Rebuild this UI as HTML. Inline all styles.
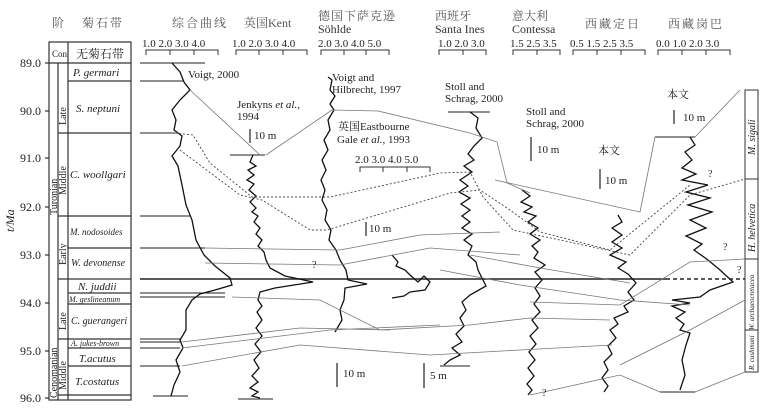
<!DOCTYPE html>
<html><head><meta charset="utf-8"><style>
html,body{margin:0;padding:0;background:#fff}
svg{display:block}
text{font-family:"Liberation Serif","Noto Serif CJK SC",serif;fill:#222}
</style></head><body>
<svg width="779" height="417" viewBox="0 0 779 417" xmlns="http://www.w3.org/2000/svg">
<g font-size="12" fill="#555">
<text x="52" y="27" style="fill:#555">阶</text>
<text x="82" y="27" style="fill:#555" letter-spacing="2">菊石带</text>
<text x="172" y="27" style="fill:#555" letter-spacing="2">综合曲线</text>
<text x="244" y="27" style="fill:#555">英国Kent</text>
<text x="318" y="20" style="fill:#555" letter-spacing="1">德国下萨克逊</text>
<text x="318" y="33" style="fill:#333">Söhlde</text>
<text x="435" y="20" style="fill:#555">西班牙</text>
<text x="435" y="33" style="fill:#333">Santa Ines</text>
<text x="512" y="20" style="fill:#555">意大利</text>
<text x="512" y="33" style="fill:#333">Contessa</text>
<text x="585" y="28" style="fill:#555" letter-spacing="2">西藏定日</text>
<text x="668" y="28" style="fill:#555" letter-spacing="2">西藏岗巴</text>
</g>
<g font-size="11">
<text x="142" y="47">1.0 2.0 3.0 4.0</text>
<text x="232" y="47">1.0 2.0 3.0 4.0</text>
<text x="318" y="47">2.0 3.0 4.0 5.0</text>
<text x="438" y="47">1.0 2.0 3.0</text>
<text x="510" y="47">1.5 2.5 3.5</text>
<text x="570" y="47">0.5 1.5 2.5 3.5</text>
<text x="656" y="47">0.0 1.0 2.0 3.0</text>
<text x="355" y="163">2.0 3.0 4.0 5.0</text>
</g>
<g stroke="#333" stroke-width="1" fill="none">
<path d="M146 55V50H218V55M170 50V55M194 50V55"/>
<path d="M236 55V50H307V55M259 50V55M283 50V55"/>
<path d="M321 55V50H389V55M344 50V55M366 50V55"/>
<path d="M439 55V50H486V55M463 50V55"/>
<path d="M513 55V50H560V55M537 50V55"/>
<path d="M573 55V50H645V55M597 50V55M621 50V55"/>
<path d="M658 55V50H730V55M682 50V55M706 50V55"/>
<path d="M360 172V167H430V172M383 167V172M407 167V172"/>
</g>
<g font-size="12">
<text x="20" y="67">89.0</text><text x="20" y="115">90.0</text><text x="20" y="162">91.0</text>
<text x="20" y="211">92.0</text><text x="20" y="259">93.0</text><text x="20" y="307">94.0</text>
<text x="20" y="355">95.0</text><text x="20" y="402">96.0</text>
<text x="14" y="232" transform="rotate(-90 14 232)" font-style="italic">t/Ma</text>
</g>
<g stroke="#333" stroke-width="1.2" fill="none">
<rect x="49" y="42" width="82" height="358"/>
<path d="M49 63H131M68 63V400M58 63V400M68 42V63"/>
<path d="M45 63H49M45 111H49M45 158H49M45 207H49M45 255H49M45 303H49M45 351H49M45 398H49"/>
<path d="M68 81H131M68 133H131M68 216H131M68 248H131M58 279H131M68 293H131M68 304H131M58 339H131M68 348H131M68 366H131M58 395H131M58 133H68M58 216H68"/>
</g>
<g font-size="11" font-style="italic">
<text x="52" y="57" font-style="normal" font-size="9">Con</text>
<text x="76" y="58" font-style="normal" font-size="12">无菊石带</text>
<text x="73" y="76">P. germari</text>
<text x="76" y="112">S. neptuni</text>
<text x="70" y="178">C. woollgari</text>
<text x="70" y="235" font-size="9">M. nodosoides</text>
<text x="71" y="266" font-size="10">W. devonense</text>
<text x="78" y="290">N. juddii</text>
<text x="69" y="302" font-size="8">M. geslineanum</text>
<text x="71" y="324" font-size="10">C. guerangeri</text>
<text x="71" y="346" font-size="8">A. jukes-brown</text>
<text x="79" y="362">T.acutus</text>
<text x="75" y="385">T.costatus</text>
</g>
<g font-size="10">
<text transform="rotate(-90 66 125)" x="66" y="125">Late</text>
<text transform="rotate(-90 66 195)" x="66" y="195">Middle</text>
<text transform="rotate(-90 66 265)" x="66" y="265">Early</text>
<text transform="rotate(-90 66 330)" x="66" y="330">Late</text>
<text transform="rotate(-90 66 390)" x="66" y="390">Middle</text>
<text transform="rotate(-90 57 215)" x="57" y="215">Turonian</text>
<text transform="rotate(-90 57 398)" x="57" y="398">Cenomanian</text>
</g>
<g stroke="#222" stroke-width="1">
<path d="M140 63H205M140 81H183M140 133H175M140 216H190M140 248H205M140 293H225M140 297H225M140 339H180M140 342H180M140 348H180M140 366H180M153 396H188"/>
<path d="M140 279H666" stroke-width="1.4"/>
<path d="M666 279H745" stroke-dasharray="4,3" stroke-width="1.4"/>
<path d="M230 155H265M238 399H273M448 112H490M440 366H470M655 137H695M660 392H695"/>
</g>
<g stroke="#333" fill="none"><rect x="745" y="90" width="13" height="282"/><path d="M745 179H758M745 259H758M745 330H758"/></g>
<g font-size="10" font-style="italic">
<text transform="rotate(-90 755 155)" x="755" y="155">M. sigali</text>
<text transform="rotate(-90 755 252)" x="755" y="252">H. helvetica</text>
<text transform="rotate(-90 754 330)" x="754" y="330" font-size="7">W. archaeocretacea</text>
<text transform="rotate(-90 754 370)" x="754" y="370" font-size="7">R. cushmani</text>
</g>
<g stroke="#111" stroke-width="1.3" fill="none">
<path d="M172 63L180 72 184 82 190 90 180 100 172 110 176 120 174 130 182 136 180 146 172 156 178 166 182 185 186 205 192 220 196 240 204 255 215 266 230 278 232 285 215 290 200 294 192 300 186 310 186 330 180 340 183 348 176 360 180 372 174 385 171 396"/>
<path d="M253 155L250 162 256 166 248 170 254 175 247 180 254 184 249 190 256 196 250 202 256 208 252 212 258 216 254 222 260 228 256 234 262 240 258 246 264 252 266 260 270 268 285 276 313 282 275 288 260 292 258 300 262 306 257 312 262 320 256 328 262 336 255 344 261 352 254 360 259 368 252 376 258 382 250 388 258 392 252 396 260 398"/>
<path d="M328 77L332 80 330 90 335 96 330 104 334 110 328 120 330 130 324 140 328 150 322 160 326 170 321 180 325 190 322 200 327 210 325 220 331 230 329 240 336 250 340 260 346 270 348 280 367 284 345 288 344 300 340 310 342 320 335 332"/>
<path d="M392 255L398 262 396 266 405 270 410 275 418 282 424 276 430 282 425 290 410 292 404 296 392 298"/>
<path d="M470 112L478 118 476 128 482 138 474 146 468 154 474 160 464 166 472 172 460 180 468 186 459 192 470 198 461 204 470 210 462 216 470 222 462 228 472 234 464 240 472 246 468 255 476 262 478 270 486 286 470 295 462 302 466 310 460 318 464 326 456 334 462 342 452 348 460 355 450 360 444 365"/>
<path d="M522 190L530 196 521 202 532 207 524 212 536 216 528 222 538 228 530 234 540 240 532 246 538 252 534 258 545 265 535 272 542 280 535 288 540 296 534 304 540 312 532 320 538 328 530 336 536 344 529 352 535 360 528 368 534 376 527 384 532 390 528 395"/>
<path d="M618 215L622 222 612 228 622 235 612 242 622 248 610 255 626 262 618 268 628 274 636 283 628 292 634 300 624 306 628 312 614 318 618 324 610 330 616 338 608 346 612 354 604 362 608 370 602 378 608 386 604 392"/>
<path d="M690 137L695 145 685 152 692 160 682 168 696 174 682 180 708 185 686 192 710 198 688 205 712 212 690 220 706 228 686 236 702 244 694 250 708 260 720 270 733 282 710 290 700 297 672 300 690 303 672 306 685 312 676 318 684 324 680 330 690 333 686 345 682 360 685 375 680 390"/>
</g>
<g stroke="#777" stroke-width="0.8" fill="none">
<path d="M190 90L260 155M266 155L332 110M332 110L378 111 470 133 497 142 507 183 530 193M495 180L640 212M640 212L655 137M695 137L740 90"/>
<path d="M205 248L340 250 420 235 500 232M205 263L340 265 430 248 520 255M232 297L320 300 380 330 470 325 530 318 610 320M182 342L300 328 390 330M182 348L330 330 440 325M182 366L300 345 430 355 520 350 612 345M530 302L620 305 690 262 745 259M620 365L690 330 745 300M530 395L620 375 660 392M695 392L745 372M440 270L520 285 620 300 690 305M470 255L540 268 630 283"/>
</g>
<g stroke="#444" stroke-width="0.9" fill="none" stroke-dasharray="2,2">
<path d="M175 133L193 135 210 163 252 197 330 197 440 173 470 172 483 197 513 230 560 240 630 255 690 195 745 179"/>
<path d="M180 150L240 195 262 200 310 230 327 230 450 193 480 190 510 210 540 232 610 250 690 185"/>
</g>
<g font-size="11">
<text x="188" y="78">Voigt, 2000</text>
<text x="237" y="108">Jenkyns <tspan font-style="italic">et al.</tspan>,</text>
<text x="237" y="120">1994</text>
<text x="332" y="81">Voigt and</text>
<text x="332" y="93">Hilbrecht, 1997</text>
<text x="338" y="130">英国Eastbourne</text>
<text x="337" y="143">Gale <tspan font-style="italic">et al.</tspan>, 1993</text>
<text x="445" y="90">Stoll and</text>
<text x="445" y="102">Schrag, 2000</text>
<text x="526" y="115">Stoll and</text>
<text x="526" y="127">Schrag, 2000</text>
<text x="598" y="154">本文</text>
<text x="667" y="98">本文</text>
<text x="254" y="139">10 m</text>
<text x="369" y="232">10 m</text>
<text x="537" y="153">10 m</text>
<text x="605" y="184">10 m</text>
<text x="683" y="121">10 m</text>
<text x="343" y="377">10 m</text>
<text x="430" y="379">5 m</text>
<text x="312" y="268" font-size="10">?</text>
<text x="708" y="177" font-size="10">?</text>
<text x="723" y="250" font-size="10">?</text>
<text x="737" y="273" font-size="10">?</text>
<text x="542" y="396" font-size="10">?</text>
</g>
<g stroke="#222" stroke-width="1.2">
<path d="M250 129V143M366 222V236M531 137V161M600 169V189M674 110V124M337 363V387M424 363V388"/>
</g>
</svg>
</body></html>
